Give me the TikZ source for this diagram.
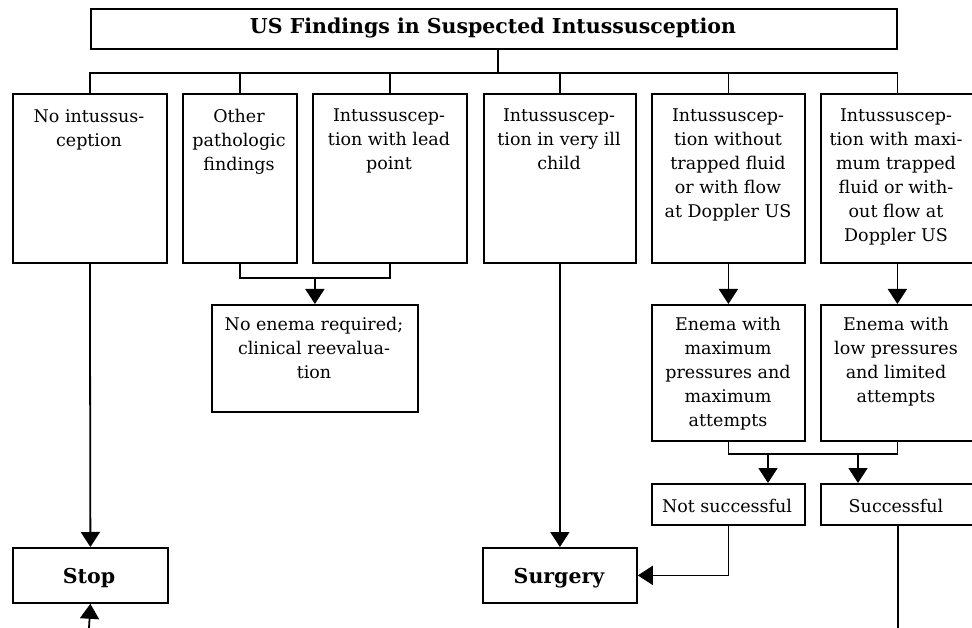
\documentclass[tikz,border=0pt]{standalone}
\usepackage{fontspec}
\setmainfont{DejaVu Serif}
\usetikzlibrary{arrows.meta}
\begin{document}
\begin{tikzpicture}[x=1pt,y=-1pt,
  box/.style={draw,line width=1.8pt,inner sep=0pt,anchor=north west},
  txt/.style={anchor=north,align=center,inner sep=0pt,yshift=15pt,
    font=\fontsize{17.5}{24}\selectfont,execute at begin node=\rule{0pt}{15pt}},
  btxt/.style={anchor=base,align=center,inner sep=0pt,font=\fontsize{20.5}{24}\selectfont\bfseries},
  ln/.style={line width=1.8pt},
  arr/.style={line width=1.8pt,-{Triangle[width=19pt,length=15pt]}}]
\useasboundingbox (0,0) rectangle (972,628);
% boxes
\node[box,minimum width=806pt,minimum height=40pt] (title) at (90,8) {};
\node[box,minimum width=154pt,minimum height=169pt] (b1) at (12,93) {};
\node[box,minimum width=114pt,minimum height=169pt] (b2) at (182,93) {};
\node[box,minimum width=154pt,minimum height=169pt] (b3) at (312,93) {};
\node[box,minimum width=152pt,minimum height=169pt] (b4) at (483,93) {};
\node[box,minimum width=153pt,minimum height=169pt] (b5) at (651,93) {};
\node[box,minimum width=153pt,minimum height=169pt] (b6) at (820,93) {};
\node[box,minimum width=206pt,minimum height=107pt] (ne) at (211,304) {};
\node[box,minimum width=153pt,minimum height=136pt] (e1) at (651,304) {};
\node[box,minimum width=153pt,minimum height=136pt] (e2) at (820,304) {};
\node[box,minimum width=153pt,minimum height=41pt] (ns) at (651,483) {};
\node[box,minimum width=153pt,minimum height=41pt] (sc) at (820,483) {};
\node[box,minimum width=155pt,minimum height=55pt] (stop) at (12,547) {};
\node[box,minimum width=154pt,minimum height=55pt] (surg) at (482,547) {};
% texts
\node[btxt] (ttitle) at (493,34) {US Findings in Suspected Intussusception};
\node[txt] (t1) at (89,124) {No intussus-\\ception};
\node[txt] (t2) at (239,124) {Other\\pathologic\\findings};
\node[txt] (t3) at (389,124) {Intussuscep-\\tion with lead\\point};
\node[txt] (t4) at (559,124) {Intussuscep-\\tion in very ill\\child};
\node[txt] (t5) at (728,124) {Intussuscep-\\tion without\\trapped fluid\\or with flow\\at Doppler US};
\node[txt] (t6) at (896,124) {Intussuscep-\\tion with maxi-\\mum trapped\\fluid or with-\\out flow at\\Doppler US};
\node[txt] (tne) at (314,332) {No enema required;\\clinical reevalua-\\tion};
\node[txt] (te1) at (728,332) {Enema with\\maximum\\pressures and\\maximum\\attempts};
\node[txt] (te2) at (896,332) {Enema with\\low pressures\\and limited\\attempts};
\node[txt] (tns) at (727,512) {Not successful};
\node[txt] (tsc) at (896,512) {Successful};
\node[btxt] (tstop) at (89,583) {Stop};
\node[btxt] (tsurg) at (559,583) {Surgery};
% coordinates
\coordinate (tstem) at (498,73);
\coordinate (bus) at (0,73);
\coordinate (j1) at (0,278);
\coordinate (j2) at (0,454);
\coordinate (a1) at (768,0);
\coordinate (a2) at (858,0);
\coordinate (scx) at (898,628);
\coordinate (stopin) at (89,628);
% connectors
\draw[ln] (tstem |- title.south) -- (tstem);
\draw[ln] (b1.north) |- (bus -| b6.north) -- (b6.north);
\draw[ln] (b2.north) -- (b2.north |- bus);
\draw[ln] (b3.north) -- (b3.north |- bus);
\draw[ln] (b4.north) -- (b4.north |- bus);
\draw[ln] (b5.north) -- (b5.north |- bus);
\draw[arr] (b1.south) -- (stop.north);
\draw[ln] (b2.south) |- (j1 -| b3.south) -- (b3.south);
\draw[arr] (j1 -| ne.north) -- (ne.north);
\draw[arr] (b4.south) -- (surg.north);
\draw[arr] (b5.south) -- (e1.north);
\draw[arr] (b6.south) -- (e2.north);
\draw[ln] (e1.south) |- (j2 -| e2.south) -- (e2.south);
\draw[arr] (j2 -| a1) -- (ns.north -| a1);
\draw[arr] (j2 -| a2) -- (sc.north -| a2);
\draw[arr] (ns.south) |- (surg.east);
\draw[ln] (sc.south -| scx) -- (scx);
\draw[arr] (stopin) -- (stop.south);
\end{tikzpicture}
\end{document}
